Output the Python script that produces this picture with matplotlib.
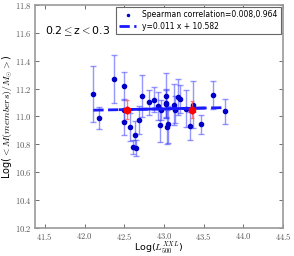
import numpy as np
import matplotlib
matplotlib.use("Agg")
import matplotlib.pyplot as plt
from matplotlib.ticker import FuncFormatter

plt.rcParams['mathtext.fontset'] = 'cm'

# clusters: log L500 XXL, log <M(members)/Msun>, error
log_lx = [42.11, 42.175, 42.375, 42.50, 42.50, 42.50, 42.57, 42.61, 42.64, 42.65,
          42.69, 42.72, 42.81, 42.87, 42.925, 42.96, 42.95, 43.02, 43.02, 43.03,
          43.05, 43.04, 43.13, 43.14, 43.175, 43.20, 43.28, 43.33, 43.36, 43.46,
          43.62, 43.77]
log_m = [11.162, 10.99, 11.27, 11.221, 11.045, 10.959, 10.924, 10.784, 10.866, 10.774,
         10.973, 11.148, 11.102, 11.119, 11.074, 11.045, 10.938, 11.15, 11.098, 11.09,
         10.943, 10.924, 11.086, 11.05, 11.138, 11.124, 11.057, 10.931, 11.086, 10.943,
         11.155, 11.036]
err_m = [0.20, 0.08, 0.17, 0.10, 0.08, 0.09, 0.10, 0.05, 0.10, 0.06,
         0.10, 0.15, 0.09, 0.09, 0.10, 0.07, 0.12, 0.16, 0.10, 0.10,
         0.13, 0.12, 0.15, 0.10, 0.13, 0.10, 0.13, 0.10, 0.17, 0.07,
         0.10, 0.09]

# binned medians (red)
bin_lx = [42.53, 43.35]
bin_m = [11.05, 11.048]
bin_err = [0.07, 0.06]

slope = 0.011
intercept = 10.582

fig = plt.figure(figsize=(2.94, 2.56), dpi=100)
ax = fig.add_axes([0.119, 0.11, 0.844, 0.87])

ax.errorbar(log_lx, log_m, yerr=err_m, fmt='none', ecolor='#4040ff', alpha=0.55,
            elinewidth=1.0, capsize=2, capthick=1.0, zorder=2)
ax.plot(log_lx, log_m, 'o', color='#0000c8', markersize=3.0, zorder=3,
        label='Spearman correlation=0.008,0.964')

xf = np.array([min(log_lx), max(log_lx)])
ax.plot(xf, slope * xf + intercept, '--', color='#1a1aff', lw=2.0, zorder=4,
        label='y=0.011 x + 10.582')
xs = np.array([42.45, 43.5])
ax.plot(xs, slope * xs + intercept, '-', color='#1a1aff', lw=2.0, zorder=4)

ax.errorbar(bin_lx, bin_m, yerr=bin_err, fmt='none', ecolor='#ff6060', alpha=0.8,
            elinewidth=1.0, capsize=1.5, zorder=5)
ax.plot(bin_lx, bin_m, 'h', color='red', markersize=5, zorder=6)

ax.set_xlim(41.375, 44.5)
ax.set_ylim(10.2, 11.8)
ax.set_xticks([41.5, 42.0, 42.5, 43.0, 43.5, 44.0, 44.5])
ax.set_yticks([10.2, 10.4, 10.6, 10.8, 11.0, 11.2, 11.4, 11.6, 11.8])
fmt = FuncFormatter(lambda v, p: r'$%.1f$' % v)
ax.xaxis.set_major_formatter(fmt)
ax.yaxis.set_major_formatter(fmt)
ax.tick_params(direction='in', top=True, right=True, labelsize=6.2,
               length=3, width=0.6, pad=2, colors='#555555', labelcolor='#555555')
for s in ax.spines.values():
    s.set_color('#999999')
    s.set_linewidth(1.2)

ax.set_xlabel(r'Log($L_{500}^{XXL}$)', fontsize=6.8, labelpad=-1)
ax.set_ylabel(r'Log($< M(members)/M_{\odot} >$)', fontsize=7, labelpad=0)

ax.text(41.5, 11.615, r'0.2$\leq$z$<$0.3', fontsize=7.8, va='center', ha='left')

leg = ax.legend(loc='upper right', fontsize=5.5, fancybox=False, edgecolor='#666666',
                framealpha=1, handlelength=2.2, borderaxespad=0.3, borderpad=0.4,
                labelspacing=0.3, markerscale=0.5)
leg.get_frame().set_linewidth(0.8)

fig.savefig('out.png', dpi=100)
